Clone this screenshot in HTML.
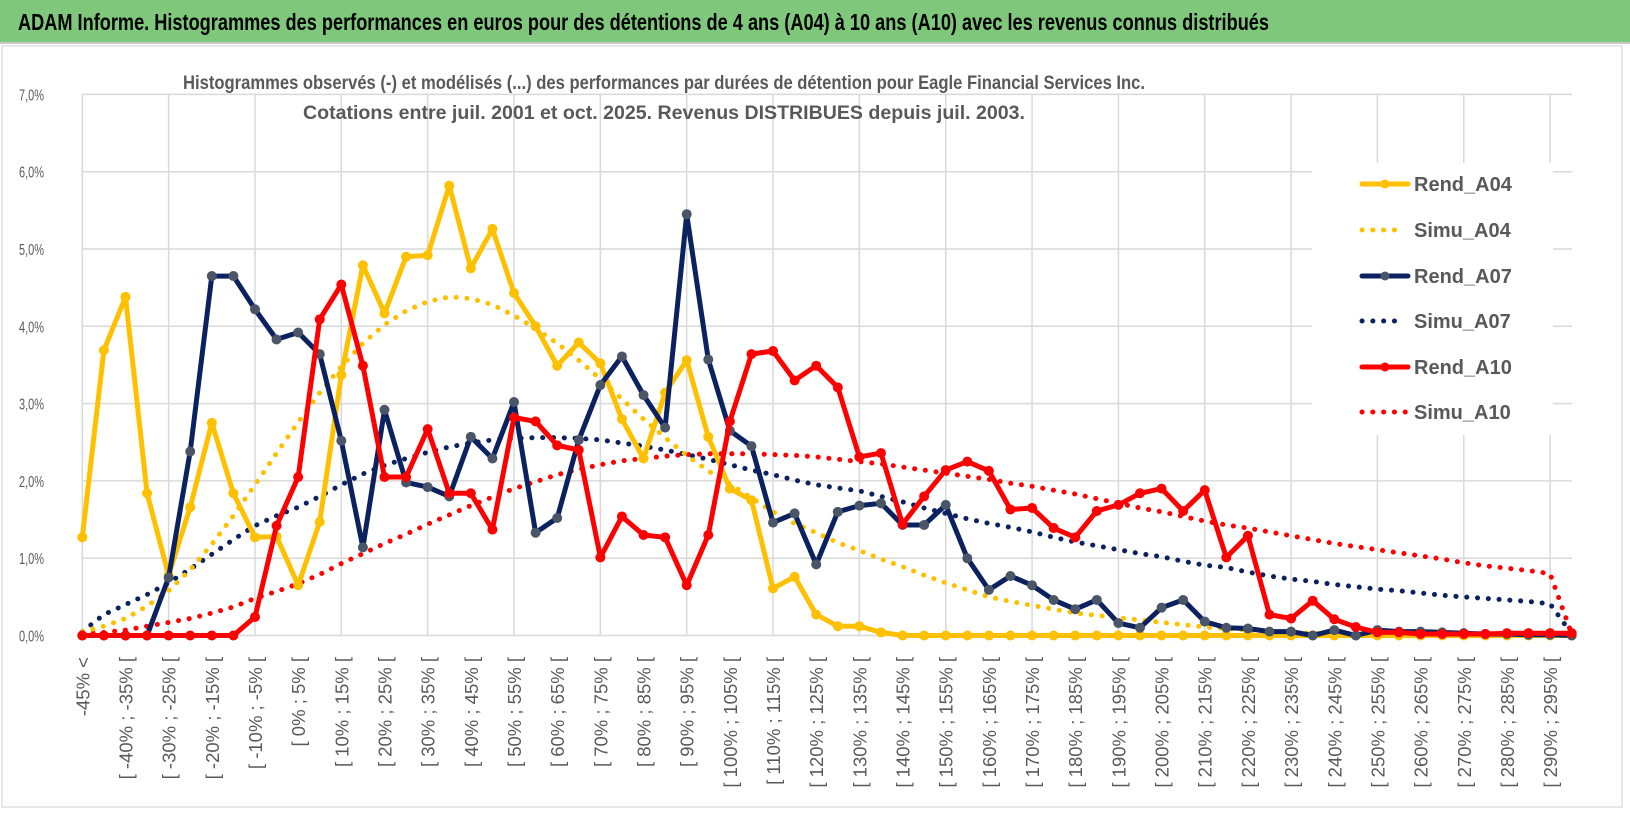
<!DOCTYPE html>
<html><head><meta charset="utf-8"><style>
html,body{margin:0;padding:0;background:#fff;}
svg{display:block;font-family:"Liberation Sans Narrow","Liberation Sans",sans-serif;}
</style></head><body>
<svg id="chart" width="1630" height="815" viewBox="0 0 1630 815">
<rect x="0" y="0" width="1630" height="815" fill="#fff"/>
<rect x="0" y="0" width="1630" height="42" fill="#7ec77b"/>
<line x1="0" y1="43" x2="1630" y2="43" stroke="#c8c8c8" stroke-width="2"/>
<text x="18" y="30" font-size="23" font-weight="bold" fill="#000" textLength="1251" lengthAdjust="spacingAndGlyphs">ADAM Informe. Histogrammes des performances en euros pour des détentions de 4 ans (A04) à 10 ans (A10) avec les revenus connus distribués</text>
<rect x="2" y="46" width="1620" height="761" fill="none" stroke="#d0d0d0" stroke-width="1"/>
<g id="grid"></g>
<text x="183" y="89" font-size="19" font-weight="bold" fill="#595959" textLength="962" lengthAdjust="spacingAndGlyphs">Histogrammes observés (-) et modélisés (...) des performances par durées de détention pour Eagle Financial Services Inc.</text>
<text x="303" y="119" font-size="19" font-weight="bold" fill="#595959" textLength="722" lengthAdjust="spacingAndGlyphs">Cotations entre juil. 2001 et oct. 2025. Revenus DISTRIBUES depuis juil. 2003.</text>
<g id="yaxis"></g>
<g id="xaxis"></g>
<g id="series"></g>
<g id="legend"></g>
</svg>
<script>
const categories = (function(){const c=["-45% <"];for(let v=-45;v<300;v+=5){c.push("[ "+v+"% ; "+(v+5)+"% [");}return c;})();
const yTicks = [0,1,2,3,4,5,6,7];
const rendA04 = [1.27,3.69,4.38,1.84,0.78,1.66,2.75,1.84,1.27,1.28,0.65,1.47,3.37,4.79,4.17,4.90,4.92,5.82,4.75,5.26,4.43,4.00,3.49,3.79,3.52,2.80,2.29,3.14,3.56,2.57,1.90,1.75,0.61,0.76,0.27,0.12,0.12,0.04,0,0,0,0,0,0,0,0,0,0,0,0,0,0,0,0,0,0,0,0,0,0,0,0,0,0,0,0,0,0,0,0];
const simuA04 = [0.05,0.12,0.22,0.38,0.58,0.85,1.18,1.55,1.95,2.36,2.76,3.14,3.48,3.78,4.02,4.2,4.32,4.38,4.36,4.28,4.14,3.97,3.78,3.56,3.32,3.06,2.8,2.56,2.33,2.13,1.96,1.78,1.6,1.45,1.33,1.2,1.1,0.99,0.89,0.78,0.68,0.59,0.5,0.44,0.39,0.34,0.29,0.26,0.23,0.2,0.17,0.14,0.11,0.09,0.07,0.05,0.04,0.03,0.02,0.015,0.01,0,0,0,0,0,0,0,0,0];
const rendA07 = [0,0,0,0,0.75,2.38,4.65,4.65,4.22,3.83,3.92,3.64,2.52,1.14,2.92,1.98,1.92,1.80,2.57,2.29,3.02,1.33,1.52,2.53,3.24,3.61,3.11,2.69,5.45,3.57,2.65,2.45,1.46,1.58,0.92,1.60,1.68,1.71,1.43,1.43,1.69,1.00,0.59,0.77,0.65,0.46,0.34,0.46,0.16,0.10,0.36,0.46,0.18,0.10,0.09,0.05,0.05,0,0.07,0,0.07,0.05,0.05,0.04,0.03,0.02,0.02,0.01,0.01,0];
const simuA07 = [0.05,0.27,0.4,0.53,0.68,0.86,1.05,1.24,1.42,1.55,1.66,1.8,1.95,2.09,2.2,2.29,2.37,2.44,2.49,2.53,2.55,2.56,2.56,2.55,2.53,2.49,2.45,2.4,2.34,2.28,2.21,2.14,2.08,2.01,1.95,1.91,1.87,1.8,1.73,1.65,1.58,1.51,1.45,1.4,1.34,1.27,1.21,1.16,1.11,1.06,1.02,0.96,0.91,0.88,0.82,0.77,0.73,0.7,0.66,0.63,0.6,0.58,0.55,0.52,0.5,0.48,0.46,0.44,0.41,0.02];
const rendA10 = [0,0,0,0,0,0,0,0,0.24,1.42,2.05,4.09,4.54,3.49,2.05,2.05,2.67,1.84,1.84,1.37,2.82,2.77,2.46,2.40,1.01,1.54,1.30,1.27,0.65,1.30,2.77,3.64,3.68,3.30,3.49,3.21,2.31,2.36,1.44,1.80,2.14,2.25,2.13,1.63,1.65,1.39,1.27,1.61,1.69,1.84,1.90,1.61,1.88,1.01,1.29,0.27,0.22,0.45,0.21,0.11,0.04,0.04,0.02,0.02,0.02,0.02,0.03,0.03,0.03,0.03];
const simuA10 = [0.02,0.04,0.07,0.12,0.17,0.22,0.29,0.37,0.48,0.57,0.67,0.79,0.93,1.06,1.19,1.31,1.44,1.56,1.68,1.79,1.9,1.99,2.08,2.15,2.21,2.26,2.29,2.32,2.34,2.35,2.35,2.35,2.34,2.33,2.31,2.28,2.25,2.22,2.18,2.14,2.1,2.06,2.02,1.97,1.93,1.88,1.83,1.77,1.71,1.65,1.6,1.54,1.48,1.43,1.39,1.34,1.29,1.24,1.19,1.15,1.11,1.07,1.03,0.99,0.94,0.9,0.87,0.84,0.8,0.02];
const seriesNames = ["Rend_A04","Simu_A04","Rend_A07","Simu_A07","Rend_A10","Simu_A10"];

const NS="http://www.w3.org/2000/svg";
const X0=82.3, DX=(1571.7-82.3)/(categories.length-1), Y0=635.5, DY=77.3;
function xs(i){return X0+DX*i;}
function ys(v){return Y0-v*DY;}
function mk(tag,attrs,parent){const e=document.createElementNS(NS,tag);for(const k in attrs)e.setAttribute(k,attrs[k]);parent.appendChild(e);return e;}

const grid=document.getElementById('grid');
yTicks.forEach(t=>{
  const l=mk('line',{x1:82,x2:1572,y1:ys(t),y2:ys(t),stroke:'#d9d9d9','stroke-width':1.5},grid);
  
  
});
for(let i=0;i<categories.length;i+=4){
  const l=mk('line',{x1:xs(i),x2:xs(i),y1:ys(7),y2:Y0,stroke:'#d9d9d9','stroke-width':1.5},grid);
  
  
}
const ya=document.getElementById('yaxis');
yTicks.forEach(t=>{
  const tx=mk('text',{x:19,y:ys(t)+6,'font-size':16,fill:'#595959',textLength:25,lengthAdjust:'spacingAndGlyphs'},ya);
  tx.textContent=t.toFixed(1).replace('.',',')+'%';
  
  
});
const xa=document.getElementById('xaxis');
for(let i=0;i<categories.length;i+=2){
  const x=xs(i)+7;
  const tx=mk('text',{x:0,y:0,transform:`translate(${x},657) rotate(-90)`,'font-size':18.5,fill:'#595959','text-anchor':'end','font-family':'Liberation Sans, sans-serif'},xa);
  tx.textContent=categories[i];
  
  
}
const sg=document.getElementById('series');
function pts(arr){return arr.map((v,i)=>xs(i).toFixed(1)+','+ys(v).toFixed(1)).join(' ');}
function dotted(arr,color,name){
  const p=mk('polyline',{points:pts(arr),fill:'none',stroke:color,'stroke-width':5,'stroke-linecap':'round','stroke-dasharray':'0.1 10.7'},sg);
  
  
}
function solid(arr,color,mcolor,name){
  const g=mk('g',{},sg);
  
  
  mk('polyline',{points:pts(arr),fill:'none',stroke:color,'stroke-width':5,'stroke-linejoin':'round'},g);
  arr.forEach((v,i)=>{
    const c=mk('circle',{cx:xs(i),cy:ys(v),r:5,fill:mcolor},g);
    
    
  });
}
dotted(simuA10,'#ff0000','series-simu-a10');
dotted(simuA07,'#0b2160','series-simu-a07');
dotted(simuA04,'#ffc000','series-simu-a04');
solid(rendA04,'#ffc000','#ffc000','series-rend-a04');
solid(rendA07,'#0b2160','#4a5668','series-rend-a07');
solid(rendA10,'#ff0000','#ff0000','series-rend-a10');

const lg=document.getElementById('legend');
mk('rect',{x:1312,y:163,width:241,height:272,fill:'#fff'},lg);
const lcolors=['#ffc000','#ffc000','#0b2160','#0b2160','#ff0000','#ff0000'];
const ly=[184,230,276,321,367,412];
seriesNames.forEach((n,k)=>{
  const g=mk('g',{},lg);
  
  
  if(k%2===0){
    mk('line',{x1:1362,x2:1408,y1:ly[k],y2:ly[k],stroke:lcolors[k],'stroke-width':5,'stroke-linecap':'round'},g);
    mk('circle',{cx:1385,cy:ly[k],r:4.5,fill:k===2?'#4a5668':lcolors[k]},g);
  } else {
    mk('line',{x1:1362,x2:(k===5?1408:1398),y1:ly[k],y2:ly[k],stroke:lcolors[k],'stroke-width':5,'stroke-linecap':'round','stroke-dasharray':'0.1 10.7'},g);
  }
  const t=mk('text',{x:1414,y:ly[k]+7,'font-size':20,'font-weight':'bold',fill:'#595959'},g);
  t.textContent=n;
});
</script>
</body></html>
